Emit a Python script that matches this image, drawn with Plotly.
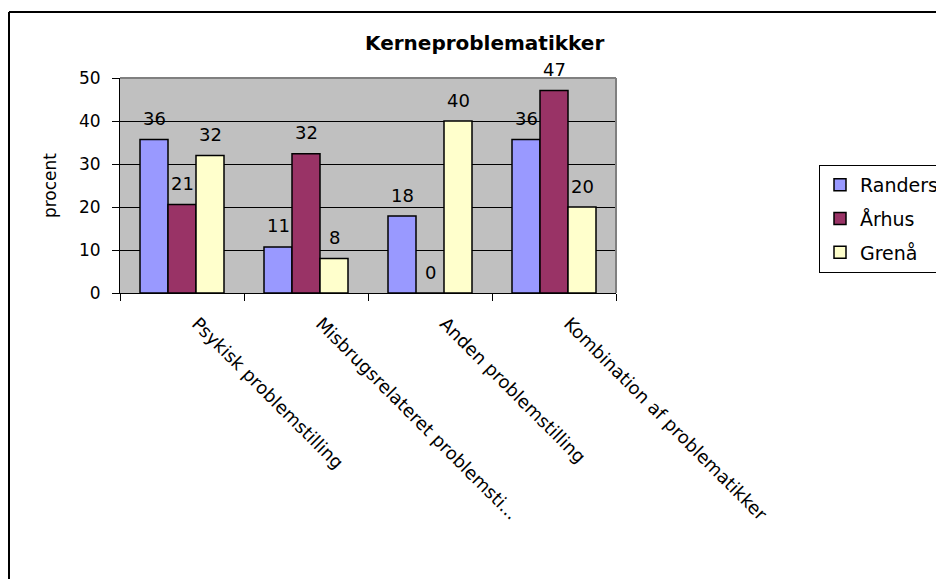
import plotly.graph_objects as go

categories = ["Psykisk problemstilling", "Misbrugsrelateret problemsti...",
              "Anden problemstilling", "Kombination af problematikker"]
series_names = ["Randers", "Århus", "Grenå"]
randers = [35.7, 10.7, 17.9, 35.7]
aarhus = [20.6, 32.4, 0.0, 47.1]
grenaa = [32.0, 8.0, 40.0, 20.0]
colors = ["#9999FF", "#993366", "#FFFFCC"]
y_ticks = [0, 10, 20, 30, 40, 50]

OFF = 8  # page body margin
W, H = 944 - OFF, 579 - OFF
L, R, T, B = 120, 616, 78, 293  # plot area in page px

FONT = "DejaVu Sans, Arial, sans-serif"

fig = go.Figure()
all_series = [randers, aarhus, grenaa]
for k, (name, vals, col) in enumerate(zip(series_names, all_series, colors)):
    fig.add_trace(go.Bar(
        name=name, x=categories, y=vals,
        marker=dict(color=col, line=dict(color="black", width=1.5)),
        legendgroup=name,
    ))

bargap = 0.3226
bw = (1 - bargap) / 3
annotations = []
for k, vals in enumerate(all_series):
    for i, v in enumerate(vals):
        annotations.append(dict(
            x=i + (k - 1) * bw, y=v, xref="x", yref="y",
            xanchor="center", yanchor="middle",
            text=str(int(round(v))), showarrow=False, yshift=21,
            font=dict(family=FONT, size=18, color="black"),
        ))


def px_x(p):
    return (p - L) / (R - L)


def px_y(p):
    return (B - p) / (B - T)


annotations.append(dict(
    x=px_x(484), y=px_y(43), xref="paper", yref="paper",
    xanchor="center", yanchor="middle",
    text="<b>Kerneproblematikker</b>", showarrow=False,
    font=dict(family=FONT, size=20, color="black"),
))

shapes = [
    # outer chart border (left and top)
    dict(type="line", xref="paper", yref="paper", x0=px_x(9), x1=px_x(9),
         y0=px_y(12), y1=px_y(590), line=dict(color="black", width=2)),
    dict(type="line", xref="paper", yref="paper", x0=px_x(9), x1=px_x(960),
         y0=px_y(12), y1=px_y(12), line=dict(color="black", width=2)),
    # plot area top and right border (gray)
    dict(type="line", xref="paper", yref="paper", x0=0, x1=1, y0=1, y1=1,
         line=dict(color="#808080", width=2), layer="above"),
    dict(type="line", xref="paper", yref="paper", x0=1, x1=1, y0=0, y1=1,
         line=dict(color="#808080", width=2), layer="above"),
]

fig.update_layout(
    width=W, height=H,
    margin=dict(l=L - OFF, r=W - (R - OFF), t=T - OFF, b=H - (B - OFF),
                pad=0, autoexpand=False),
    paper_bgcolor="white", plot_bgcolor="#C0C0C0",
    barmode="group", bargap=bargap, bargroupgap=0,
    font=dict(family=FONT, size=16, color="black"),
    showlegend=True,
    legend=dict(
        x=px_x(819), y=px_y(165), xanchor="left", yanchor="top",
        xref="paper", yref="paper",
        bordercolor="black", borderwidth=1, bgcolor="white",
        font=dict(family=FONT, size=19, color="black"),
        tracegroupgap=6, itemwidth=30,
    ),
    annotations=annotations,
    shapes=shapes,
)

fig.update_xaxes(
    type="category", range=[-0.5, 3.5],
    showline=True, linecolor="black", linewidth=1,
    ticks="outside", tickson="boundaries", ticklen=7, tickcolor="black",
    tickangle=45, tickfont=dict(family=FONT, size=18, color="black"),
    ticklabelstandoff=12, ticklabelshift=15,
    showgrid=False, zeroline=False,
)
fig.update_yaxes(
    range=[0, 50], tickvals=y_ticks,
    showline=True, linecolor="black", linewidth=1,
    ticks="outside", ticklen=7, tickcolor="black",
    tickfont=dict(family=FONT, size=17, color="black"),
    ticklabelstandoff=8,
    showgrid=True, gridcolor="black", gridwidth=1,
    zeroline=False,
    title=dict(text="procent", font=dict(family=FONT, size=17, color="black"),
               standoff=18),
)

fig.write_html("out.html")
